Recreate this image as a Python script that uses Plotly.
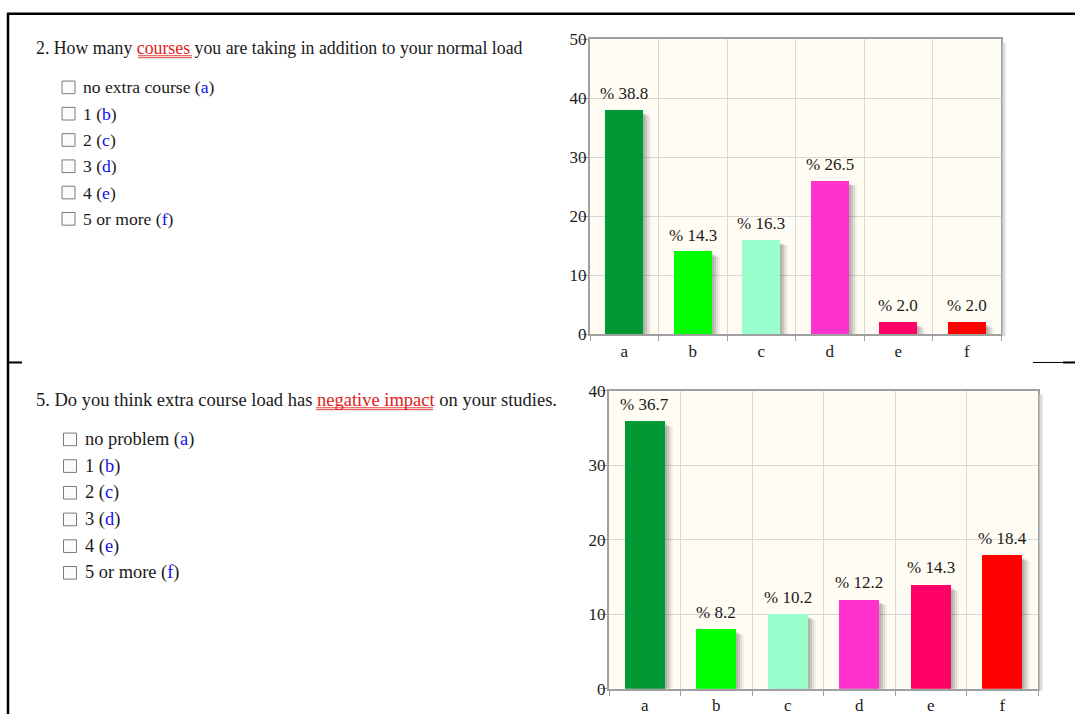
import plotly.graph_objects as go

W, H = 1075, 724

# ---------------- data ----------------
categories = ["a", "b", "c", "d", "e", "f"]
bar_colors = ["#009933", "#00ff00", "#99ffcc", "#ff33cc", "#ff0066", "#ff0000"]

q2_pct = [38.8, 14.3, 16.3, 26.5, 2.0, 2.0]
q5_pct = [36.7, 8.2, 10.2, 12.2, 14.3, 18.4]

q2_yticks = [0, 10, 20, 30, 40, 50]
q5_yticks = [0, 10, 20, 30, 40]

q2_title_pre = "2. How many "
q2_title_key = "courses"
q2_title_post = " you are taking in addition to your normal load"
q2_options = ["no extra course", "1", "2", "3", "4", "5 or more"]

q5_title_pre = "5. Do you think extra course load has "
q5_title_key = "negative impact"
q5_title_post = " on your studies."
q5_options = ["no problem", "1", "2", "3", "4", "5 or more"]

# ---------------- helpers (window pixel -> paper) ----------------
def px(x):
    return x / W

def py(y):
    return 1 - y / H

SERIF = "Liberation Serif, Times New Roman, serif"
TXT = "#1a1a1a"
GRID = "#d8d8d8"
FRAME = "#a0a0a0"
BG = "#fffcf3"
FS_CHART = 17

fig = go.Figure()

charts = [
    dict(pct=q2_pct, xa="x", ya="y", left=590, right=1001, top=31, bottom=334, yticks=q2_yticks),
    dict(pct=q5_pct, xa="x2", ya="y2", left=609, right=1038, top=392, bottom=698, yticks=q5_yticks),
]

annotations = []
shapes = []

for ch in charts:
    heights = [int(v) for v in ch["pct"]]  # bars drawn at whole-number height, as in the source chart
    xs = list(range(len(categories)))
    cat_px = (ch["right"] - ch["left"]) / len(categories)
    unit_px = (ch["bottom"] - ch["top"]) / ch["yticks"][-1]
    bw = 0.56
    # soft shadow layers
    for dx, dy, a in [(2, 3, 0.10), (4, 4, 0.10), (6, 5, 0.08), (8, 6, 0.05)]:
        fig.add_trace(go.Bar(
            x=xs, y=[max(h - dy / unit_px, 0) for h in heights],
            width=bw, offset=-bw / 2 + dx / cat_px,
            marker=dict(color=f"rgba(0,0,0,{a})", line=dict(width=0)),
            xaxis=ch["xa"], yaxis=ch["ya"], hoverinfo="skip", showlegend=False,
        ))
    fig.add_trace(go.Bar(
        x=xs, y=heights, width=bw, offset=-bw / 2,
        marker=dict(color=bar_colors, line=dict(width=0)),
        xaxis=ch["xa"], yaxis=ch["ya"], showlegend=False,
    ))
    for i, v in enumerate(ch["pct"]):
        annotations.append(dict(
            x=i, y=heights[i], xref=ch["xa"], yref=ch["ya"], text=f"% {v:.1f}",
            showarrow=False, yanchor="bottom", yshift=5,
            font=dict(family=SERIF, size=FS_CHART, color=TXT),
        ))
    # frame shadow
    shapes.append(dict(type="line", xref="paper", yref="paper",
                       x0=px(ch["right"] + 3), x1=px(ch["right"] + 3),
                       y0=py(ch["top"] + 4), y1=py(ch["bottom"] + 2),
                       line=dict(color="#dcdcdc", width=3)))

axis_common = dict(showline=True, linecolor=FRAME, linewidth=2, mirror=True, zeroline=False,
                   fixedrange=True, tickfont=dict(family=SERIF, size=FS_CHART, color=TXT))

for n, ch in enumerate(charts):
    sfx = "" if n == 0 else "2"
    fig.update_layout(**{
        f"xaxis{sfx}": dict(
            axis_common,
            domain=[px(ch["left"]), px(ch["right"])],
            range=[-0.5, len(categories) - 0.5],
            tickmode="array", tickvals=list(range(len(categories))), ticktext=categories,
            ticks="", showgrid=False, anchor=f"y{sfx}",
            minor=dict(tickmode="array", tickvals=[i - 0.5 for i in range(len(categories) + 1)],
                       showgrid=True, gridcolor=GRID, gridwidth=1,
                       ticks="outside", ticklen=5, tickcolor=FRAME, tickwidth=1),
        ),
        f"yaxis{sfx}": dict(
            axis_common,
            domain=[py(ch["bottom"]), py(ch["top"])],
            range=[0, ch["yticks"][-1]],
            tickmode="array", tickvals=ch["yticks"],
            ticks="outside", ticklen=7, tickcolor=FRAME, tickwidth=1,
            ticklabelstandoff=-9,
            showgrid=True, gridcolor=GRID, gridwidth=1, anchor=f"x{sfx}",
        ),
    })

# ---------------- left question texts ----------------
def question(title_pre, key, title_post, options, title_y, first_y, step, box_x, text_x,
             ul_x0, ul_x1, ul_y, fs_title, fs_opt):
    annotations.append(dict(
        x=px(34), y=py(title_y), xref="paper", yref="paper", xanchor="left", yanchor="middle",
        text=f'{title_pre}<span style="color:#e02020">{key}</span>{title_post}',
        showarrow=False, font=dict(family=SERIF, size=fs_title, color=TXT),
    ))
    for dy in (0, 2):
        shapes.append(dict(type="line", xref="paper", yref="paper",
                           x0=px(ul_x0), x1=px(ul_x1), y0=py(ul_y + dy), y1=py(ul_y + dy),
                           line=dict(color="#e04040", width=1)))
    for i, opt in enumerate(options):
        yc = first_y + step * i
        shapes.append(dict(type="rect", xref="paper", yref="paper",
                           x0=px(box_x), x1=px(box_x + 13), y0=py(yc - 6.5), y1=py(yc + 6.5),
                           line=dict(color="#7a7a7a", width=1), fillcolor="#fbfbfb"))
        annotations.append(dict(
            x=px(text_x), y=py(yc), xref="paper", yref="paper", xanchor="left", yanchor="middle",
            text=f'{opt} (<span style="color:#1010ee">{categories[i]}</span>)',
            showarrow=False, font=dict(family=SERIF, size=fs_opt, color=TXT),
        ))

question(q2_title_pre, q2_title_key, q2_title_post, q2_options, 40, 80.5, 27, 62, 81,
         138, 192, 48, 17.8, 17.6)
question(q5_title_pre, q5_title_key, q5_title_post, q5_options, 402, 442, 27.4, 63.5, 83,
         316, 433, 409.5, 18.5, 18.4)

# ---------------- page border lines ----------------
def hline(x0, x1, y, w):
    shapes.append(dict(type="line", xref="paper", yref="paper", x0=px(x0), x1=px(x1),
                       y0=py(y), y1=py(y), line=dict(color="black", width=w)))

shapes.append(dict(type="line", xref="paper", yref="paper", x0=px(8), x1=px(8),
                   y0=py(4), y1=py(724), line=dict(color="black", width=2.5)))
hline(7, 1075, 5, 2.5)
hline(8, 22, 363, 2)
hline(1033, 1075, 363, 1)
hline(1063, 1075, 363, 2)

fig.update_layout(
    width=W, height=H, margin=dict(l=0, r=0, t=0, b=0),
    paper_bgcolor="white", plot_bgcolor=BG,
    barmode="overlay", bargap=0,
    showlegend=False,
    annotations=annotations, shapes=shapes,
)

post = ("document.documentElement.style.margin='0';"
        "document.body.style.margin='0';document.body.style.padding='0';"
        "document.body.style.overflow='hidden';")
fig.write_html("out.html", config={"displayModeBar": False}, post_script=post)
